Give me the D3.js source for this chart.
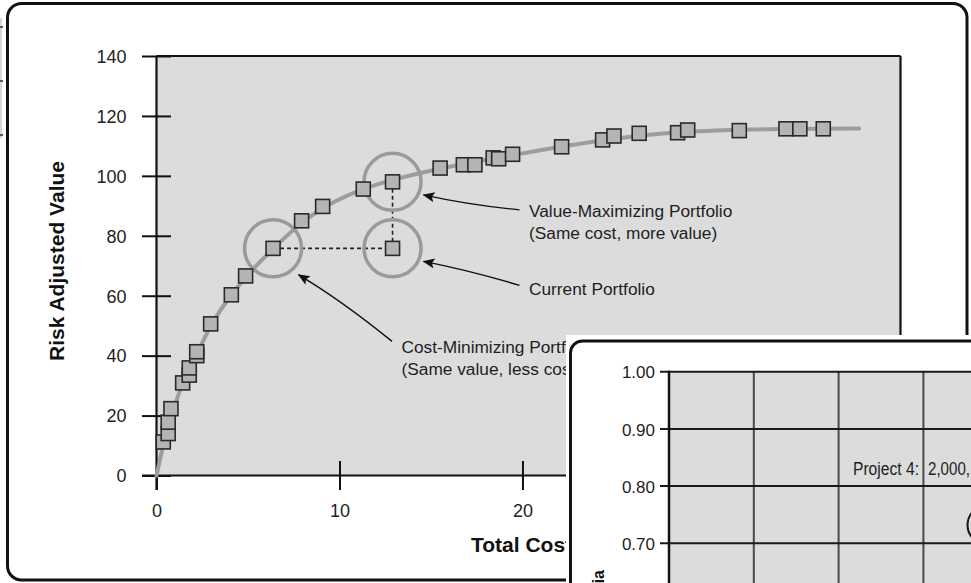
<!DOCTYPE html>
<html>
<head>
<meta charset="utf-8">
<script src="https://cdn.jsdelivr.net/npm/d3@7/dist/d3.min.js"></script>
<style>
  html, body { margin: 0; padding: 0; background: #fff; }
  svg { display: block; font-family: "Liberation Sans", Arial, sans-serif; }
</style>
</head>
<body>
<svg id="chart" width="971" height="583"></svg>
<script>
// ---------------- DATA ----------------
// Efficient-frontier portfolios (Total Cost, Risk Adjusted Value)
const portfolioCost  = [0.37, 0.64, 0.64, 0.79, 1.43, 1.79, 1.79, 2.2, 2.2, 2.96, 4.09, 4.87, 6.37, 7.93, 9.08, 11.3, 12.9, 15.5, 16.77, 17.4, 18.4, 18.7, 19.46, 22.14, 24.38, 25.0, 26.38, 28.48, 29.03, 31.85, 34.4, 35.16, 36.44];
const portfolioValue = [11.2, 14.0, 17.8, 22.3, 30.9, 33.5, 35.9, 40.0, 41.3, 50.6, 60.3, 66.6, 75.8, 85.0, 89.8, 95.6, 98.0, 102.6, 103.7, 103.7, 106.0, 105.7, 107.2, 109.7, 112.0, 113.3, 114.2, 114.4, 115.3, 115.1, 115.7, 115.7, 115.7];
// Frontier curve
const curveCost  = [0, 0.35, 0.7, 1.2, 1.8, 2.4, 3.0, 4.0, 5.0, 6.4, 8.0, 9.5, 11.3, 13.0, 15.5, 18.0, 20.0, 22.5, 25.0, 28.0, 31.0, 34.0, 38.4];
const curveValue = [0, 9.5, 17.5, 27, 35.5, 43, 50.3, 59.5, 67, 75.8, 84.6, 90.6, 95.6, 98.8, 102.4, 105.4, 107.5, 110.1, 112.4, 114.3, 115.2, 115.6, 115.8];
// Highlighted portfolios
const highlightNames = ["Cost-Minimizing", "Current", "Value-Maximizing"];
const highlightCost  = [6.37, 12.9, 12.9];
const highlightValue = [75.8, 75.8, 98.0];
// Axes
const xTicks = [0, 10, 20, 30, 40];
const yTicks = [0, 20, 40, 60, 80, 100, 120, 140];
const xDomainMax = 40.66;
const yDomainMax = 140;
const xTitle = "Total Cost";
const yTitle = "Risk Adjusted Value";
// Annotation texts
const noteValueMax = ["Value-Maximizing Portfolio", "(Same cost, more value)"];
const noteCurrent  = ["Current Portfolio"];
const noteCostMin  = ["Cost-Minimizing Portfolio", "(Same value, less cost)"];

// Inset chart (second, overlapping figure)
const insetYTicks = [1.00, 0.90, 0.80, 0.70];
const insetXTicks = [0, 1000, 2000, 3000, 4000];
const insetBubbleX = [3750];
const insetBubbleY = [0.732];
const insetLabel = ["Project 4:", "2,000,"];
const insetYTitle = "Criteria";

// ---------------- DRAW ----------------
const svg = d3.select("#chart");
const W = 971, H = 583;
svg.append("rect").attr("width", W).attr("height", H).attr("fill", "#fff");

// stray edge marks from adjoining page
svg.append("line").attr("x1", 1).attr("x2", 1).attr("y1", 18).attr("y2", 138)
  .attr("stroke", "#bbb").attr("stroke-width", 1.2);
[27, 81, 135].forEach(v => svg.append("line").attr("x1", 0).attr("x2", 3).attr("y1", v).attr("y2", v)
  .attr("stroke", "#333").attr("stroke-width", 1.5));

// outer rounded frame
svg.append("rect").attr("x", 7.5).attr("y", 3.5).attr("width", 959.5).attr("height", 576.5)
  .attr("rx", 14).attr("fill", "none").attr("stroke", "#111").attr("stroke-width", 3);

const L = 156.5, R = 900.5, T = 56, B = 475.5;
const x = d3.scaleLinear().domain([0, xDomainMax]).range([L, R]);
const y = d3.scaleLinear().domain([0, yDomainMax]).range([B, T]);

const g = svg.append("g");
g.append("rect").attr("x", L).attr("y", T).attr("width", R - L).attr("height", B - T).attr("fill", "#dcdcdc");
// frame top / right
g.append("line").attr("x1", L).attr("x2", R).attr("y1", T).attr("y2", T).attr("stroke", "#111").attr("stroke-width", 2.2);
g.append("line").attr("x1", R).attr("x2", R).attr("y1", T).attr("y2", B).attr("stroke", "#111").attr("stroke-width", 2.2);

// y axis (ticks cross the axis)
const yAxis = d3.axisLeft(y).tickValues(yTicks).tickSize(0).tickPadding(0);
const yg = g.append("g").attr("transform", `translate(${L},0)`).call(yAxis);
yg.select(".domain").remove();
yg.selectAll(".tick text").attr("x", -30).attr("dy", "0.35em")
  .style("font-size", "18px").style("font-family", "'Liberation Sans', Arial, sans-serif").attr("fill", "#222");
yg.selectAll(".tick line").attr("x1", -14.5).attr("x2", 14.5).attr("stroke", "#111").attr("stroke-width", 2);
g.append("line").attr("x1", L).attr("x2", L).attr("y1", T).attr("y2", B + 14.5).attr("stroke", "#111").attr("stroke-width", 2.2);

// x axis
const xAxis = d3.axisBottom(x).tickValues(xTicks).tickSize(0).tickPadding(0);
const xg = g.append("g").attr("transform", `translate(0,${B})`).call(xAxis);
xg.select(".domain").remove();
xg.selectAll(".tick text").attr("y", 41).attr("dy", 0)
  .style("font-size", "18px").style("font-family", "'Liberation Sans', Arial, sans-serif").attr("fill", "#222");
xg.selectAll(".tick line").attr("y1", -14.5).attr("y2", 14.5).attr("stroke", "#111").attr("stroke-width", 2);
g.append("line").attr("x1", L - 14.5).attr("x2", R).attr("y1", B).attr("y2", B).attr("stroke", "#111").attr("stroke-width", 2.2);

// axis titles
g.append("text").attr("x", 471).attr("y", 552).attr("font-size", 21).attr("font-weight", "bold")
  .attr("fill", "#111").text(xTitle);
g.append("text").attr("transform", `translate(64,261) rotate(-90)`)
  .attr("text-anchor", "middle").attr("font-size", 21).attr("font-weight", "bold").attr("fill", "#111")
  .attr("textLength", 200).attr("lengthAdjust", "spacingAndGlyphs").text(yTitle);

// frontier curve
const curvePts = curveCost.map((c, i) => [c, curveValue[i]]);
g.append("path").datum(curvePts)
  .attr("d", d3.line().x(d => x(d[0])).y(d => y(d[1])).curve(d3.curveMonotoneX))
  .attr("fill", "none").attr("stroke", "#9d9d9d").attr("stroke-width", 4).attr("stroke-linecap", "round");

// dashed guide lines
const hp = highlightCost.map((c, i) => ({ name: highlightNames[i], px: x(c), py: y(highlightValue[i]) }));
g.append("path")
  .attr("d", `M${hp[0].px},${hp[0].py}H${hp[1].px}V${hp[2].py}`)
  .attr("fill", "none").attr("stroke", "#222").attr("stroke-width", 1.6).attr("stroke-dasharray", "4,3");

// highlight circles
g.selectAll("circle.hl").data(hp).join("circle").attr("class", "hl")
  .attr("cx", d => d.px).attr("cy", d => d.py).attr("r", 28.5)
  .attr("fill", "none").attr("stroke", "#9a9a9a").attr("stroke-width", 3.5);

// portfolio squares
const pts = portfolioCost.map((c, i) => ({ c, v: portfolioValue[i] }))
  .sort((a, b) => a.c - b.c || a.v - b.v);
const S = 14;
g.selectAll("rect.pt").data(pts).join("rect").attr("class", "pt")
  .attr("x", d => x(d.c) - S / 2).attr("y", d => y(d.v) - S / 2).attr("width", S).attr("height", S)
  .attr("fill", "#b4b4b4").attr("stroke", "#2a2a2a").attr("stroke-width", 1.6);
// current portfolio square (off frontier)
g.append("rect").attr("x", hp[1].px - S / 2).attr("y", hp[1].py - S / 2).attr("width", S).attr("height", S)
  .attr("fill", "#b4b4b4").attr("stroke", "#2a2a2a").attr("stroke-width", 1.6);

// arrows
const defs = svg.append("defs");
defs.append("marker").attr("id", "ah").attr("viewBox", "0 0 12 10").attr("refX", 11).attr("refY", 5)
  .attr("markerWidth", 13).attr("markerHeight", 10).attr("markerUnits", "userSpaceOnUse").attr("orient", "auto")
  .append("path").attr("d", "M0,0 L12,5 L0,10 L2.5,5 Z").attr("fill", "#111");

const vm = hp[2], cu = hp[1], cm = hp[0];
function arrow(sx, sy, cx, cy, ex, ey) {
  g.append("path").attr("d", `M${sx},${sy}Q${cx},${cy} ${ex},${ey}`)
    .attr("fill", "none").attr("stroke", "#111").attr("stroke-width", 1.4).attr("marker-end", "url(#ah)");
}
arrow(vm.px + 127, vm.py + 28, vm.px + 76, vm.py + 23, vm.px + 31, vm.py + 13);
arrow(cu.px + 127, cu.py + 37, cu.px + 77, cu.py + 22, cu.px + 31, cu.py + 13);
arrow(cm.px + 119, cm.py + 93, cm.px + 67, cm.py + 51, cm.px + 25.5, cm.py + 26.5);

// annotation texts
function note(lines, tx, ty) {
  lines.forEach((t, i) => g.append("text").attr("x", tx).attr("y", ty + i * 22)
    .attr("font-size", 17.3).attr("fill", "#1e1e1e").text(t));
}
note(noteValueMax, 529, 216.5);
note(noteCurrent, 529, 295);
note(noteCostMin, 401.5, 353);

// ---------------- INSET ----------------
const ig = svg.append("g");
ig.append("rect").attr("x", 566).attr("y", 335).attr("width", W - 566).attr("height", H - 335).attr("fill", "#fff");
ig.append("rect").attr("x", 570.5).attr("y", 341).attr("width", 500).attr("height", 400).attr("rx", 12)
  .attr("fill", "#fff").attr("stroke", "#111").attr("stroke-width", 3);

const iL = 669;
const iy = d3.scaleLinear().domain([0.6, 1.0]).range([600.5, 371.7]);
const ix = d3.scaleLinear().domain([0, 1000]).range([iL, 753.8]);
ig.append("rect").attr("x", iL).attr("y", iy(1.0)).attr("width", 400).attr("height", 300).attr("fill", "#dcdcdc");

// vertical grid
ig.selectAll("line.vg").data(insetXTicks.slice(1)).join("line").attr("class", "vg")
  .attr("x1", d => ix(d)).attr("x2", d => ix(d)).attr("y1", iy(1.0)).attr("y2", H + 10)
  .attr("stroke", "#4a4a4a").attr("stroke-width", 2);
// horizontal grid + ticks
ig.selectAll("line.hg").data(insetYTicks).join("line").attr("class", "hg")
  .attr("x1", iL - 9).attr("x2", W + 10).attr("y1", d => iy(d)).attr("y2", d => iy(d))
  .attr("stroke", "#1a1a1a").attr("stroke-width", 2);
ig.append("line").attr("x1", iL).attr("x2", iL).attr("y1", iy(1.0) - 1).attr("y2", H + 10)
  .attr("stroke", "#111").attr("stroke-width", 2.5);
const iyAxis = d3.axisLeft(iy).tickValues(insetYTicks).tickSize(0).tickPadding(0).tickFormat(d3.format(".2f"));
const iyg = ig.append("g").attr("transform", `translate(${iL},0)`).call(iyAxis);
iyg.select(".domain").remove();
iyg.selectAll(".tick line").remove();
iyg.selectAll(".tick text").attr("x", -14).attr("dy", "0.36em")
  .style("font-size", "17px").style("font-family", "'Liberation Sans', Arial, sans-serif").attr("fill", "#1e1e1e");

// inset bubble
ig.selectAll("circle.bub").data(insetBubbleX.map((v, i) => [v, insetBubbleY[i]])).join("circle").attr("class", "bub")
  .attr("cx", d => ix(d[0])).attr("cy", d => iy(d[1])).attr("r", 19.5)
  .attr("fill", "none").attr("stroke", "#1a1a1a").attr("stroke-width", 2);

// inset label
ig.append("text").attr("x", 853).attr("y", 475).attr("font-size", 18).attr("fill", "#1e1e1e")
  .attr("textLength", 66).attr("lengthAdjust", "spacingAndGlyphs").text(insetLabel[0]);
ig.append("text").attr("x", 928).attr("y", 475).attr("font-size", 18).attr("fill", "#1e1e1e")
  .attr("textLength", 42).attr("lengthAdjust", "spacingAndGlyphs").text(insetLabel[1]);

// inset y title (mostly off-page)
ig.append("text").attr("transform", "translate(604,570) rotate(-90)").attr("text-anchor", "end")
  .attr("font-size", 16).attr("font-weight", "bold").attr("fill", "#111").text(insetYTitle);
</script>
</body>
</html>
